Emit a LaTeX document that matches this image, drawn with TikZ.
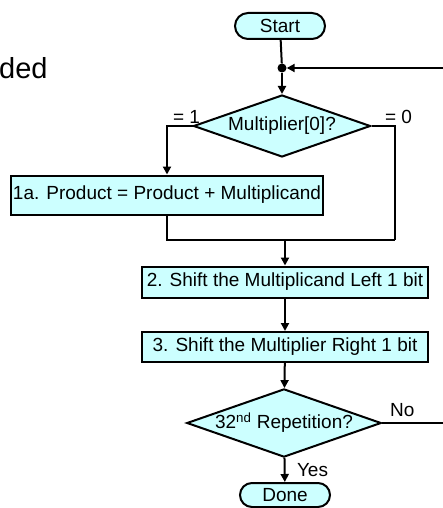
\documentclass[tikz,border=0pt]{standalone}
\usepackage{fontspec}
\setmainfont{Liberation Sans}
\usetikzlibrary{positioning,arrows.meta,shapes.geometric,shapes.misc,calc}
\definecolor{flowcyan}{HTML}{CCFFFF}

\begin{document}
\begin{tikzpicture}[
  x=1pt, y=-1pt,
  font=\fontsize{19}{22}\selectfont,
  term/.style={rounded rectangle, draw=black, line width=2pt, fill=flowcyan, minimum width=90pt, minimum height=26pt, inner sep=0pt},
  stepbox/.style={rectangle, draw=black, line width=2pt, fill=flowcyan, inner sep=2pt},
  decide/.style={diamond, draw=black, line width=2pt, fill=flowcyan, aspect=2.85, inner sep=0pt},
  dot/.style={circle, fill=black, inner sep=0pt, minimum size=9pt},
  wire/.style={line width=2pt},
  arr/.style={-{Triangle[length=8pt,width=8pt]}, line width=2pt}
]
\useasboundingbox (0,0) rectangle (443,508);

% ---------- clipped slide text ----------
\node[anchor=base west, inner sep=0pt, font=\fontsize{29}{34}\selectfont] (cut) at (-1,79) {ded};

% ---------- top: start and first test ----------
\node[term] (start) at (280,26) {Start};
\node[dot] (join) at (282,68) {};
\coordinate (loopin) at (443,68);
\node[decide, minimum width=177pt, minimum height=62pt] (mult) at (282,126) {Multiplier[0]?};
\node (one)  at ($(mult.west)+(-6,-9)$) {= 1};
\node (zero) at ($(mult.east)+(27,-9)$) {= 0};

% ---------- steps ----------
\node[stepbox, minimum width=310pt, minimum height=39pt] (add) at (167,195) {1a. Product = Product + Multiplicand};
\coordinate (rside) at (395,240);
\node[stepbox, minimum width=286pt, minimum height=31pt] (shl) at (285,282) {2. Shift the Multiplicand Left 1 bit};
\node[stepbox, minimum width=286pt, minimum height=30pt] (shr) at (285,347) {3. Shift the Multiplier Right 1 bit};

% ---------- bottom: repeat test and done ----------
\node[decide, minimum width=192pt, minimum height=63pt] (rep) at (284,423) {32\textsuperscript{nd} Repetition?};
\coordinate (noout) at (443,423);
\node (no)  at ($(rep.east)+(20,-13)$) {No};
\node[term, minimum height=24pt] (done) at (285,495) {Done};
\node (yes) at ($(rep.south)!0.5!(done.north)+(28,0)$) {Yes};

% connectors
\draw[wire] (start) -- (join);
\draw[arr] (loopin) -- (join);
\draw[arr] (join) -- (mult.north);
\draw[arr] (mult.west) -| (add.north);
\draw[wire] (mult.east) -| (rside);
\draw[wire] (add.south) |- (rside);
\draw[arr] (shl.north |- rside) -- (shl.north);
\draw[arr] (shl) -- (shr);
\draw[arr] (shr) -- (rep);
\draw[wire] (rep.east) -- (noout);
\draw[arr] (rep) -- (done);

\end{tikzpicture}
\end{document}
